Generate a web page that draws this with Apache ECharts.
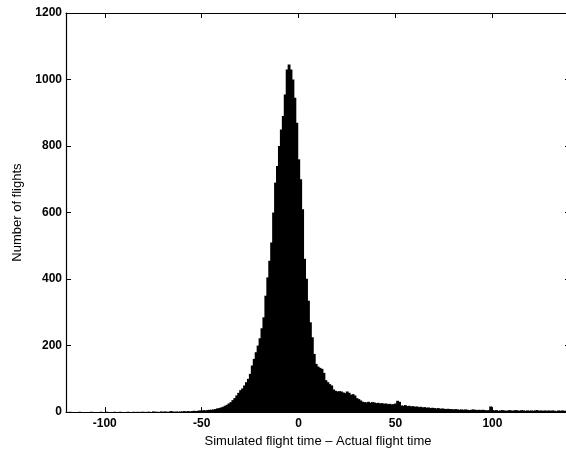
<!DOCTYPE html>
<html>
<head>
<meta charset="utf-8">
<script src="https://cdn.jsdelivr.net/npm/echarts@6/dist/echarts.min.js"></script>
<style>
  html, body { margin: 0; padding: 0; overflow: hidden; background: #fff; }
  #chart { width: 600px; height: 453px; }
</style>
</head>
<body>
<div id="chart"></div>
<script>
// Histogram of (simulated - actual) flight time, one-minute bins.
// Bin centres run from binStart upward in steps of 1.
const binStart = -120;

// -120 .. -31
const leftTail = [
  0, 0, 1, 0, 0, 0, 0, 1, 0, 0, 0, 0, 0, 1, 0, 0, 0, 0, 1, 0,
  0, 1, 0, 0, 0, 1, 0, 0, 1, 0, 0, 0, 1, 0, 0, 1, 0, 1, 0, 1,
  1, 0, 1, 1, 0, 2, 1, 1, 0, 2, 1, 2, 1, 1, 3, 2, 1, 2, 1, 2,
  2, 3, 2, 3, 2, 3, 4, 3, 4, 5, 4, 6, 5, 6, 7, 7, 8, 9, 11, 12,
  14, 16, 19, 22, 26, 30, 36, 42, 50, 58
];
// -30 .. 33
const core = [
  66, 71, 80, 90, 100, 115, 140, 160, 180, 200,
  222, 252, 285, 350, 405, 455, 510, 600, 690, 740,
  800, 850, 890, 955, 1030, 1045, 1030, 1000, 945, 870,
  760, 700, 610, 461, 401, 335, 270, 225, 175, 145,
  137, 133, 130, 118, 96, 90, 84, 80, 68, 64,
  62, 63, 62, 59, 57, 62, 58, 52, 54, 50,
  42, 39, 35, 31
];
// 34 .. 139
const rightTail = [
  30, 29, 31, 28, 30, 29, 27, 28, 26, 27, 25, 26, 24, 25, 23, 24, 26,
  34, 31,
  20, 19, 21, 18, 19, 17, 18, 16, 17, 15, 16, 14, 15, 13, 14, 12, 13, 12, 11, 12, 10, 11, 10, 9, 10, 9,
  9, 8, 9, 8, 7, 8, 7, 8, 7, 6, 7, 8, 7, 6, 7, 6, 7, 6, 5, 6,
  17,
  6, 5, 6, 4, 5, 6, 5, 4, 5, 6, 4, 5, 6, 5, 4, 6, 5, 4, 5, 4,
  5, 4, 5, 6, 4, 5, 4, 5, 4, 5, 4, 5, 4, 3, 5, 4, 5, 4, 4, 5
];

const xTicks = [-100, -50, 0, 50, 100];
const yTicks = [0, 200, 400, 600, 800, 1000, 1200];

const counts = leftTail.concat(core, rightTail);
const bins = counts.map((c, i) => [binStart + i, c]);

const font = "'Liberation Sans', Arial, Helvetica, sans-serif";
const ink = '#000';

const chart = echarts.init(document.getElementById('chart'), null, { renderer: 'canvas' });

const xBase = {
  type: 'value', min: -120, max: 140,
  splitLine: { show: false },
  axisLine: { show: true, onZero: false, lineStyle: { color: ink, width: 1.2 } },
  axisTick: { show: true, inside: true, length: 5, customValues: xTicks, lineStyle: { color: ink, width: 1 } }
};
const yBase = {
  type: 'value', min: 0, max: 1200, interval: 200,
  splitLine: { show: false },
  axisLine: { show: true, onZero: false, lineStyle: { color: ink, width: 1.2 } },
  axisTick: { show: true, inside: true, length: 5, customValues: yTicks, lineStyle: { color: ink, width: 1 } }
};

chart.setOption({
  animation: false,
  backgroundColor: '#fff',
  grid: { left: 66, top: 13, width: 504, height: 401 },
  xAxis: [
    Object.assign({}, xBase, {
      position: 'bottom',
      name: 'Simulated flight time – Actual flight time',
      nameLocation: 'middle', nameGap: 19,
      nameTextStyle: { fontFamily: font, fontSize: 13, color: ink },
      axisLabel: { customValues: xTicks, margin: 6, fontFamily: font, fontSize: 12, fontWeight: 'bold', color: ink }
    }),
    Object.assign({}, xBase, { position: 'top', axisLabel: { show: false } })
  ],
  yAxis: [
    Object.assign({}, yBase, {
      position: 'left',
      name: 'Number of flights',
      nameLocation: 'middle', nameGap: 36, nameRotate: 90,
      nameTextStyle: { fontFamily: font, fontSize: 13, color: ink },
      axisLabel: { margin: 4, fontFamily: font, fontSize: 12, fontWeight: 'bold', color: ink,
                   formatter: v => String(v) }
    }),
    Object.assign({}, yBase, { position: 'right', axisLabel: { show: false } })
  ],
  series: [{
    type: 'custom',
    clip: true,
    xAxisIndex: 0, yAxisIndex: 0,
    data: bins,
    renderItem: function (params, api) {
      const x = api.value(0), y = api.value(1);
      if (!y) return null;
      const p0 = api.coord([x - 0.5, y]);
      const p1 = api.coord([x + 0.5, 0]);
      // widen each bar slightly so neighbours overlap and no seams show
      return {
        type: 'rect',
        shape: { x: p0[0] - 0.3, y: p0[1], width: p1[0] - p0[0] + 0.9, height: p1[1] - p0[1] },
        style: { fill: ink }
      };
    }
  }]
});
</script>
</body>
</html>
